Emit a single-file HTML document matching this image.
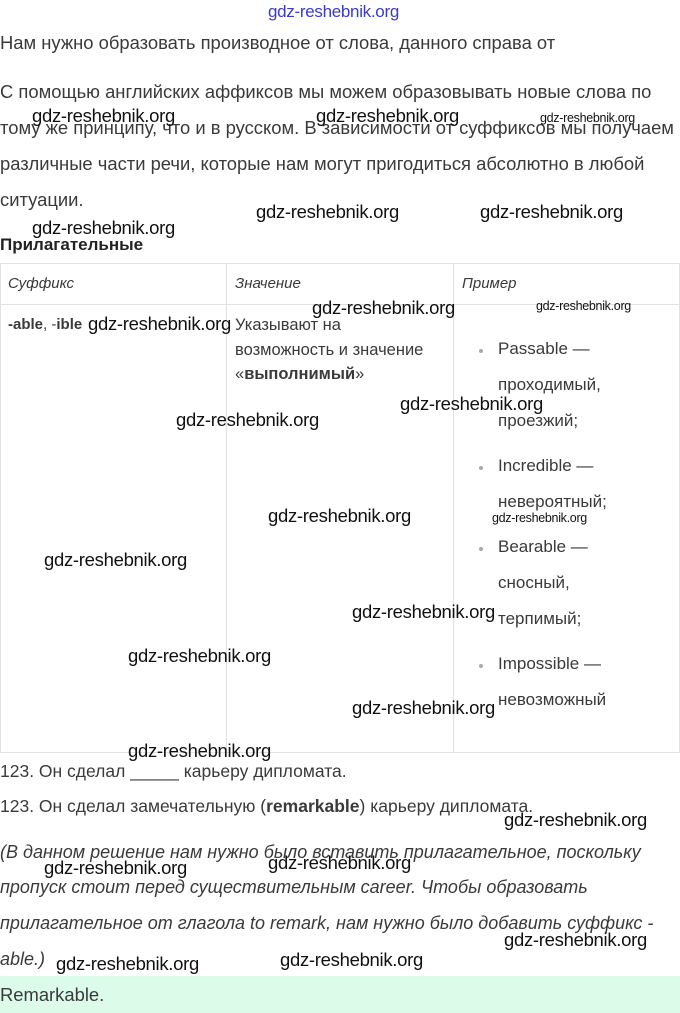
<!DOCTYPE html>
<html><head><meta charset="utf-8"><style>
body{margin:0;width:680px;height:1013px;position:relative;background:#fff;overflow:hidden;font-family:"Liberation Sans",sans-serif;color:#3a3a3a}
.t{position:absolute;white-space:nowrap;line-height:20px;font-size:18.4px}
.s{font-size:15px}
.i{font-style:italic}
.w{position:absolute;white-space:nowrap;line-height:20px;font-size:18.5px;color:#111;font-family:"Liberation Sans",sans-serif;letter-spacing:-0.3px}
.ws{font-size:12.5px}
.hl{position:absolute;left:0;width:680px;height:1px;background:#e2e2e2}
.vl{position:absolute;top:263px;height:490px;width:1px;background:#e2e2e2}
.dot{position:absolute;width:4px;height:4px;border-radius:2px;background:#aaa}
</style></head><body>
<div class="w" style="left:268px;top:2px;color:#3a3acc;font-size:17px">gdz-reshebnik.org</div>
<div class="t" style="left:0;top:33px">Нам нужно образовать производное от слова, данного справа от</div>
<div class="t" style="left:0;top:82px">С помощью английских аффиксов мы можем образовывать новые слова по</div>
<div class="t" style="left:0;top:118px">тому же принципу, что и в русском. В зависимости от суффиксов мы получаем</div>
<div class="t" style="left:0;top:154px">различные части речи, которые нам могут пригодиться абсолютно в любой</div>
<div class="t" style="left:0;top:190px">ситуации.</div>
<div class="t" style="left:0;top:235px;font-weight:bold;color:#222;font-size:17px">Прилагательные</div>

<div class="hl" style="top:263px"></div>
<div class="hl" style="top:304px"></div>
<div class="hl" style="top:752px"></div>
<div class="vl" style="left:0"></div>
<div class="vl" style="left:226px"></div>
<div class="vl" style="left:453px"></div>
<div class="vl" style="left:679px"></div>

<div class="t s i" style="left:8px;top:274px">Суффикс</div>
<div class="t s i" style="left:235px;top:274px">Значение</div>
<div class="t s i" style="left:462px;top:274px">Пример</div>
<div class="t s" style="left:8px;top:315px"><b>-able</b>, -<b>ible</b></div>
<div class="t" style="left:235px;top:315px;font-size:16.5px">Указывают на</div>
<div class="t" style="left:235px;top:340px;font-size:16.5px">возможность и значение</div>
<div class="t" style="left:235px;top:364px;font-size:16.5px">«<b>выполнимый</b>»</div>

<div class="dot" style="left:479px;top:349px"></div>
<div class="t" style="left:498px;top:339px;font-size:17px">Passable —</div>
<div class="t" style="left:498px;top:375px;font-size:17px">проходимый,</div>
<div class="t" style="left:498px;top:411px;font-size:17px">проезжий;</div>
<div class="dot" style="left:479px;top:466px"></div>
<div class="t" style="left:498px;top:456px;font-size:17px">Incredible —</div>
<div class="t" style="left:498px;top:492px;font-size:17px">невероятный;</div>
<div class="dot" style="left:479px;top:547px"></div>
<div class="t" style="left:498px;top:537px;font-size:17px">Bearable —</div>
<div class="t" style="left:498px;top:573px;font-size:17px">сносный,</div>
<div class="t" style="left:498px;top:609px;font-size:17px">терпимый;</div>
<div class="dot" style="left:479px;top:664px"></div>
<div class="t" style="left:498px;top:654px;font-size:17px">Impossible —</div>
<div class="t" style="left:498px;top:690px;font-size:17px">невозможный</div>

<div class="t" style="left:0;top:761px;font-size:17.5px">123. Он сделал _____ карьеру дипломата.</div>
<div class="t" style="left:0;top:796px;font-size:17.5px">123. Он сделал замечательную (<b>remarkable</b>) карьеру дипломата.</div>
<div class="t i" style="left:0;top:842px;font-size:18px">(В данном решение нам нужно было вставить прилагательное, поскольку</div>
<div class="t i" style="left:0;top:877px;font-size:18px">пропуск стоит перед существительным career. Чтобы образовать</div>
<div class="t i" style="left:0;top:913px;font-size:18px">прилагательное от глагола to remark, нам нужно было добавить суффикс -</div>
<div class="t i" style="left:0;top:949px;font-size:18px">able.)</div>
<div style="position:absolute;left:0;top:976px;width:680px;height:37px;background:#dcfbe9"></div>
<div class="t" style="left:0;top:985px">Remarkable.</div>

<div class="w" style="left:32px;top:106px">gdz-reshebnik.org</div>
<div class="w" style="left:316px;top:106px">gdz-reshebnik.org</div>
<div class="w ws" style="left:540px;top:108px">gdz-reshebnik.org</div>
<div class="w" style="left:256px;top:202px">gdz-reshebnik.org</div>
<div class="w" style="left:480px;top:202px">gdz-reshebnik.org</div>
<div class="w" style="left:32px;top:218px">gdz-reshebnik.org</div>
<div class="w" style="left:312px;top:298px">gdz-reshebnik.org</div>
<div class="w ws" style="left:536px;top:296px">gdz-reshebnik.org</div>
<div class="w" style="left:88px;top:314px">gdz-reshebnik.org</div>
<div class="w" style="left:176px;top:410px">gdz-reshebnik.org</div>
<div class="w" style="left:400px;top:394px">gdz-reshebnik.org</div>
<div class="w" style="left:268px;top:506px">gdz-reshebnik.org</div>
<div class="w ws" style="left:492px;top:508px">gdz-reshebnik.org</div>
<div class="w" style="left:44px;top:550px">gdz-reshebnik.org</div>
<div class="w" style="left:352px;top:602px">gdz-reshebnik.org</div>
<div class="w" style="left:128px;top:646px">gdz-reshebnik.org</div>
<div class="w" style="left:352px;top:698px">gdz-reshebnik.org</div>
<div class="w" style="left:128px;top:741px">gdz-reshebnik.org</div>
<div class="w" style="left:504px;top:810px">gdz-reshebnik.org</div>
<div class="w" style="left:44px;top:858px">gdz-reshebnik.org</div>
<div class="w" style="left:268px;top:853px">gdz-reshebnik.org</div>
<div class="w" style="left:504px;top:930px">gdz-reshebnik.org</div>
<div class="w" style="left:56px;top:954px">gdz-reshebnik.org</div>
<div class="w" style="left:280px;top:950px">gdz-reshebnik.org</div>
</body></html>
